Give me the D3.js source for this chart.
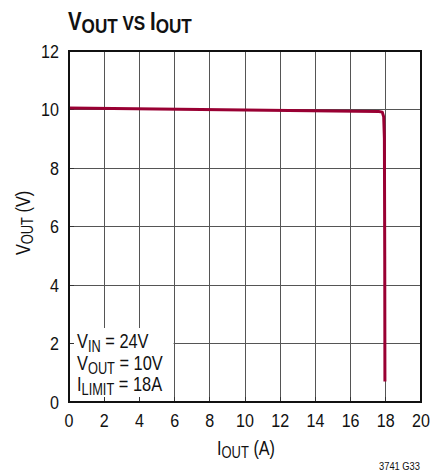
<!DOCTYPE html>
<html><head><meta charset="utf-8">
<script src="https://cdn.jsdelivr.net/npm/d3@7"></script>
<style>
html,body{margin:0;padding:0;background:#fff;}
svg text{font-family:"Liberation Sans",Arial,sans-serif;}
</style></head><body>
<svg id="c" width="432" height="475"></svg>
<script>
// Data
const xTicks = [0,2,4,6,8,10,12,14,16,18,20];
const yTicks = [0,2,4,6,8,10,12];
const iout = [0, 5, 10, 15, 17.6, 17.8, 17.88, 17.92, 17.94, 17.95];
const vout = [10.05, 10.02, 9.98, 9.95, 9.93, 9.91, 9.75, 9.0, 5.0, 0.7];
const notes = [["V","IN"," = 24V"],["V","OUT"," = 10V"],["I","LIMIT"," = 18A"]];

const svg = d3.select("#c");
const L=69, R=421, T=51, B=402;
const x = d3.scaleLinear().domain([0,20]).range([L,R]);
const y = d3.scaleLinear().domain([0,12]).range([B,T]);

// condensed text helper
function ctext(parent, px, py, sx, anchor, size, rot){
  const g = parent.append("g").attr("transform",`translate(${px},${py})`+(rot?` rotate(${rot})`:"")+` scale(${sx},1)`);
  return g.append("text").attr("x",0).attr("y",0).attr("text-anchor",anchor||"start")
    .attr("font-size",size).attr("fill","#111");
}

// grid
const g = svg.append("g");
g.selectAll(".vx").data(xTicks.slice(1,-1)).enter().append("line")
 .attr("x1",d=>x(d)).attr("x2",d=>x(d)).attr("y1",T).attr("y2",B)
 .attr("stroke","#555").attr("stroke-width",1).attr("shape-rendering","crispEdges");
g.selectAll(".hy").data(yTicks.slice(1,-1)).enter().append("line")
 .attr("y1",d=>y(d)).attr("y2",d=>y(d)).attr("x1",L).attr("x2",R)
 .attr("stroke","#555").attr("stroke-width",1).attr("shape-rendering","crispEdges");

// annotation box background
svg.append("rect").attr("x",L+1).attr("y",328).attr("width",x(6)-L-2).attr("height",B-328-1).attr("fill","#fff");
// small inner ticks
svg.selectAll(".tkx").data(xTicks.slice(1,-1)).enter().append("line")
 .attr("x1",d=>x(d)).attr("x2",d=>x(d)).attr("y1",B).attr("y2",B-5)
 .attr("stroke","#333").attr("stroke-width",1).attr("shape-rendering","crispEdges");
svg.selectAll(".tky").data(yTicks.slice(1,-1)).enter().append("line")
 .attr("y1",d=>y(d)).attr("y2",d=>y(d)).attr("x1",L).attr("x2",L+5)
 .attr("stroke","#333").attr("stroke-width",1).attr("shape-rendering","crispEdges");

// curve
svg.append("path").datum(iout).attr("d", d3.line().x((d,i)=>x(iout[i])).y((d,i)=>y(vout[i])))
 .attr("fill","none").attr("stroke","#990033").attr("stroke-width",3).attr("stroke-linejoin","round");

// frame
svg.append("rect").attr("x",L).attr("y",T).attr("width",R-L).attr("height",B-T)
 .attr("fill","none").attr("stroke","#111").attr("stroke-width",2);

// tick labels
xTicks.forEach(d=>{ ctext(svg, x(d), 427, 0.87, "middle", 18.5).text(d); });
yTicks.forEach(d=>{ ctext(svg, 59, y(d)+6.5, 0.87, "end", 18.5).text(d); });

// axis titles
const xt = ctext(svg, 246, 455, 0.81, "middle", 20);
xt.append("tspan").text("I");
xt.append("tspan").attr("dy",3).attr("font-size",16).text("OUT");
xt.append("tspan").attr("dy",-3).text(" (A)");
const yt = ctext(svg, 30, 223, 0.81, "middle", 20, -90);
yt.append("tspan").text("V");
yt.append("tspan").attr("dy",3).attr("font-size",16).text("OUT");
yt.append("tspan").attr("dy",-3).text(" (V)");

// notes
notes.forEach((n,i)=>{
  const t = ctext(svg, 77, 348+i*21.5, 0.80, "start", 20.5);
  t.append("tspan").text(n[0]);
  t.append("tspan").attr("dy",4).attr("font-size",16).text(n[1]);
  t.append("tspan").attr("dy",-4).text(n[2]);
});

// title
const tt = ctext(svg, 68, 30, 0.815, "start", 25).attr("font-weight","bold");
tt.append("tspan").text("V");
tt.append("tspan").attr("dy",3).attr("font-size",21).text("OUT");
tt.append("tspan").attr("dy",-3).attr("font-size",21).text(" VS ");
tt.append("tspan").attr("font-size",25).text("I");
tt.append("tspan").attr("dy",3).attr("font-size",21).text("OUT");

ctext(svg, 420, 470, 0.85, "end", 11).text("3741 G33");
</script></body></html>
